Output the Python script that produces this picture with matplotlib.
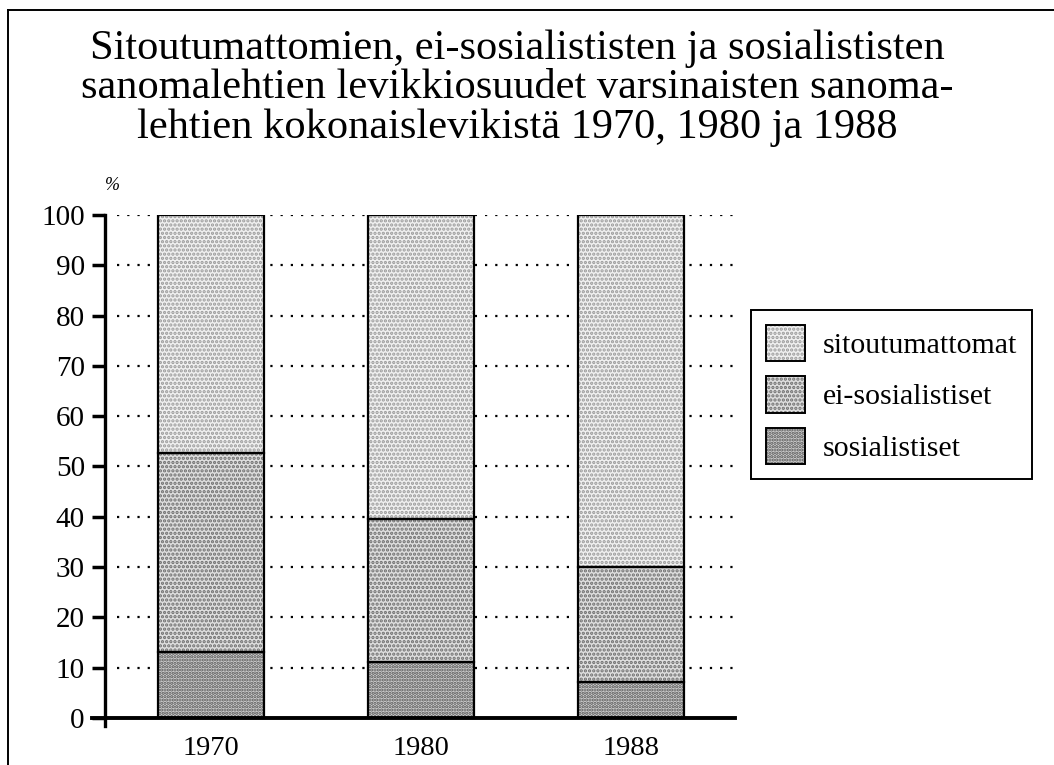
import matplotlib
matplotlib.use("Agg")
import matplotlib.pyplot as plt
import numpy as np
from matplotlib.patches import Patch
from matplotlib.lines import Line2D

plt.rcParams['font.family'] = ['Liberation Serif', 'DejaVu Serif']
plt.rcParams['hatch.linewidth'] = 1.6

# data (% of total circulation)
years = ['1970', '1980', '1988']
sosialistiset = [13.1, 11.1, 7.2]
ei_sosialistiset = [39.6, 28.5, 22.8]
sitoutumattomat = [47.3, 60.4, 70.0]

series_names = ['sosialistiset', 'ei-sosialistiset', 'sitoutumattomat']
series_vals = [sosialistiset, ei_sosialistiset, sitoutumattomat]
# (background, dot colour, hatch)
styles = [('#d0d0d0', '#555555', '.....'),
          ('#dedede', '#6e6e6e', '....'),
          ('#f0f0f0', '#9a9a9a', '....')]

fig = plt.figure(figsize=(10.54, 7.65), dpi=100)
ax = fig.add_axes([105/1054, 1 - 726/765, 630/1054, 511/765])

x = np.arange(len(years))
w = 0.505
bottom = np.zeros(len(years))
handles = []
for name, vals, (fc, hc, hatch) in zip(series_names, series_vals, styles):
    ax.bar(x, vals, w, bottom=bottom, color=fc, edgecolor=hc, hatch=hatch,
           linewidth=0, zorder=2)
    ax.bar(x, vals, w, bottom=bottom, fill=False, edgecolor='black',
           linewidth=1.6, zorder=3)
    bottom += np.array(vals)
    handles.append((Patch(facecolor=fc, edgecolor=hc, hatch=hatch, linewidth=0),
                    Patch(fill=False, edgecolor='black', linewidth=1.4)))

ax.set_xlim(-0.505, 2.495)
ax.set_ylim(-1.6, 100)
ax.set_xticks(x)
ax.set_xticklabels(years, fontsize=20.5)
ax.set_yticks(np.arange(0, 101, 10))
ax.tick_params(axis='y', length=9.5, width=2.5, direction='out', pad=5, labelsize=21)
ax.tick_params(axis='x', length=0, pad=7)

for s in ['top', 'right', 'bottom']:
    ax.spines[s].set_visible(False)
ax.spines['left'].set_linewidth(2.4)
ax.axhline(0, xmin=-13/630, xmax=1, color='black', linewidth=2.8, clip_on=False, zorder=4)

for yv in range(10, 101, 10):
    ax.axhline(yv, xmin=12/630, xmax=1, color='black', linewidth=1.6,
               linestyle=(0, (1, 3.6)), zorder=1)

leg = fig.legend(handles[::-1], series_names[::-1], loc='upper left',
                 bbox_to_anchor=(751/1054, 1 - 310/765), borderaxespad=0,
                 fontsize=21.5, handlelength=1.3, handleheight=1.5, handletextpad=0.6,
                 labelspacing=0.5, borderpad=0.5, fancybox=False, edgecolor='black',
                 framealpha=1)
leg.get_frame().set_linewidth(1.4)

fig.text(517/1054, 1 - 29/765,
         'Sitoutumattomien, ei-sosialististen ja sosialististen\n'
         'sanomalehtien levikkiosuudet varsinaisten sanoma-\n'
         'lehtien kokonaislevikistä 1970, 1980 ja 1988',
         ha='center', va='top', fontsize=30.5, linespacing=1.04)
fig.text(112/1054, 1 - 185/765, '%', style='italic', fontsize=13, ha='center', va='center')

# outer frame
fig.add_artist(Line2D([8/1054, 1], [1 - 10/765, 1 - 10/765], color='black', linewidth=1.4))
fig.add_artist(Line2D([8/1054, 8/1054], [0, 1 - 10/765], color='black', linewidth=1.4))

fig.savefig('out.png', dpi=100)
